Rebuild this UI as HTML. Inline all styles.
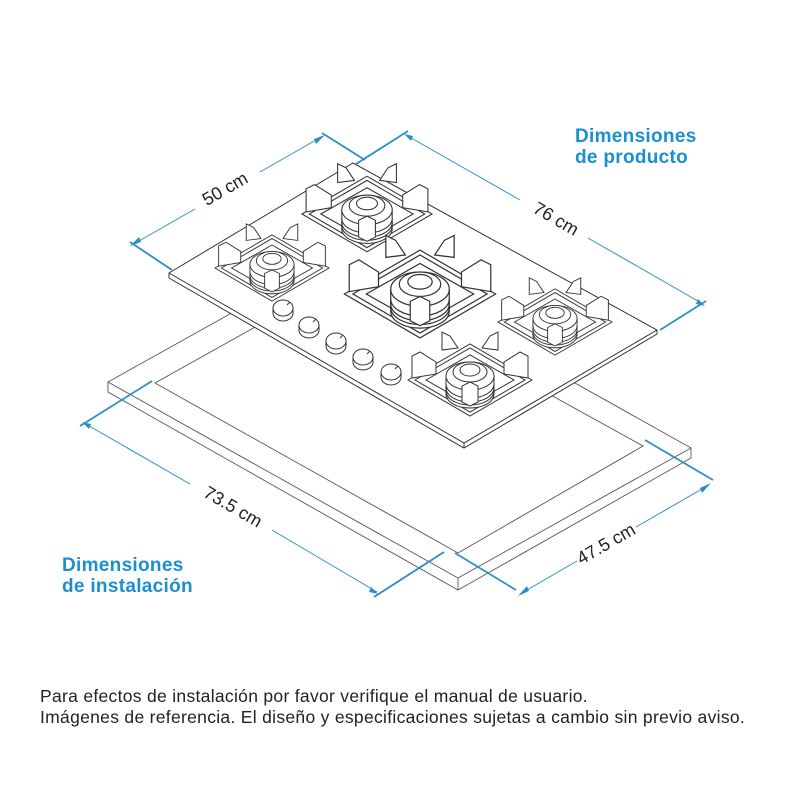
<!DOCTYPE html>
<html><head><meta charset="utf-8"><style>
html,body{margin:0;padding:0;background:#fff}
body{width:800px;height:800px;overflow:hidden;position:relative;font-family:"Liberation Sans",sans-serif}
.t{position:absolute;color:#1b8fd0;font-weight:bold;font-size:19px;line-height:21px;letter-spacing:0.3px}
.b{position:absolute;left:40px;font-size:17.5px;letter-spacing:0.3px;color:#222;line-height:21px;top:686px;white-space:nowrap}
</style></head><body>
<svg width="800" height="800" style="position:absolute;left:0;top:0">
<defs>
<g id="burner" fill="#fff" stroke="#333" stroke-width="1">
 <polygon points="-62,0 0,-36 62,0 0,36"/>
 <polygon points="-55,0 0,-32 55,0 0,32" fill="none"/>
 <polygon points="-44,0 0,-25 44,0 0,25" fill="none"/>
 <path d="M-24,-4 L-24,14 A24,14 0 0 0 24,14 L24,-4" />
 <ellipse cx="0" cy="-4" rx="24" ry="14"/>
 <path d="M-24,4 A24,14 0 0 0 24,4 M-24,8 A24,14 0 0 0 24,8 M-24,11 A24,14 0 0 0 24,11" fill="none"/>
 <ellipse cx="0" cy="-8" rx="17" ry="10"/>
 <ellipse cx="0" cy="-10" rx="10" ry="6" fill="none"/>
 <polygon points="-58,-2 -58,-24 -50,-28 -34,-18 -34,-6"/>
 <polygon points="58,-2 58,-24 50,-28 34,-18 34,-6"/>
 <polygon points="-28,-30 -28,-48 -20,-44 -12,-32"/>
 <polygon points="28,-30 28,-48 20,-44 12,-32"/>
 <polygon points="-8,22 -8,6 0,2 8,6 8,22 0,26"/>
</g>
<g id="knob" fill="#fff" stroke="#333" stroke-width="1">
 <path d="M-10,0 L-10,5 A10,8 0 0 0 10,5 L10,0"/>
 <ellipse cx="0" cy="0" rx="10" ry="8"/>
 <line x1="4" y1="-3" x2="7" y2="-6"/>
</g>
</defs>
<g fill="#fff" stroke="#555" stroke-width="0.9">
 <polygon points="108,382 341,252 691,448 691,458 458,590 108,392"/>
 <polyline points="108,382 458,578 691,448" fill="none"/>
 <line x1="458" y1="578" x2="458" y2="590"/>
 <polygon points="155,383 341,279 643,446 458,553" fill="none"/>
</g>
<g stroke="#333" stroke-width="1" fill="#fff">
 <polygon points="169,273 353,163 657,330 657,334 464,448 169,278"/>
 <polyline points="169,273 464,443 657,330" fill="none"/>
 <line x1="464" y1="443" x2="464" y2="448"/>
</g>
<use href="#burner" transform="translate(367,214) scale(1.05)"/>
<use href="#burner" transform="translate(272,268) scale(0.92)"/>
<use href="#burner" transform="translate(420,294) scale(1.22)"/>
<use href="#burner" transform="translate(555,322) scale(0.92)"/>
<use href="#burner" transform="translate(470,380) scale(1.0)"/>
<use href="#knob" transform="translate(283,308)"/>
<use href="#knob" transform="translate(309,325)"/>
<use href="#knob" transform="translate(336,341)"/>
<use href="#knob" transform="translate(363,357)"/>
<use href="#knob" transform="translate(391,372)"/>
<g stroke="#2a8fc9" stroke-width="1" fill="none">
 <line x1="132" y1="245" x2="195" y2="209"/><line x1="260" y1="172" x2="323" y2="136"/>
 <line x1="130" y1="242" x2="172" y2="270" stroke-width="1.8"/>
 <line x1="322" y1="133" x2="365" y2="160" stroke-width="1.8"/>
 <line x1="406" y1="135" x2="520" y2="200"/><line x1="588" y1="238" x2="703" y2="304"/>
 <line x1="408" y1="131" x2="356" y2="164" stroke-width="1.8"/>
 <line x1="706" y1="301" x2="660" y2="330" stroke-width="1.8"/>
 <line x1="84" y1="423" x2="190" y2="484"/><line x1="272" y1="530" x2="377" y2="592"/>
 <line x1="80" y1="426" x2="152" y2="381" stroke-width="1.8"/>
 <line x1="374" y1="597" x2="444" y2="552" stroke-width="1.8"/>
 <line x1="520" y1="594" x2="577" y2="561"/><line x1="636" y1="527" x2="709" y2="485"/>
 <line x1="516" y1="590" x2="455" y2="553" stroke-width="1.8"/>
 <line x1="713" y1="480" x2="645" y2="440" stroke-width="1.8"/>
</g>
<g fill="#2a8fc9">
 <polygon points="130,246 139,237 141,242"/>
 <polygon points="325,135 316,144 314,139"/>
 <polygon points="404,134 413,136 411,141"/>
 <polygon points="705,306 696,304 698,299"/>
 <polygon points="82,422 91,424 89,429"/>
 <polygon points="378,594 369,592 371,587"/>
 <polygon points="518,596 527,586 529,591"/>
 <polygon points="711,483 702,493 700,488"/>
</g>
<g font-family="Liberation Sans, sans-serif" font-size="18" fill="#222" text-anchor="middle">
 <text transform="translate(228,194) rotate(-30)">50 cm</text>
 <text transform="translate(553,224) rotate(30)">76 cm</text>
 <text transform="translate(230,512) rotate(30)">73.5 cm</text>
 <text transform="translate(609,549) rotate(-30)">47.5 cm</text>
</g>
</svg>
<div class="t" style="left:575px;top:126px">Dimensiones<br>de producto</div>
<div class="t" style="left:62px;top:555px">Dimensiones<br>de instalación</div>
<div class="b">Para efectos de instalación por favor verifique el manual de usuario.<br>Imágenes de referencia. El diseño y especificaciones sujetas a cambio sin previo aviso.</div>
</body></html>
